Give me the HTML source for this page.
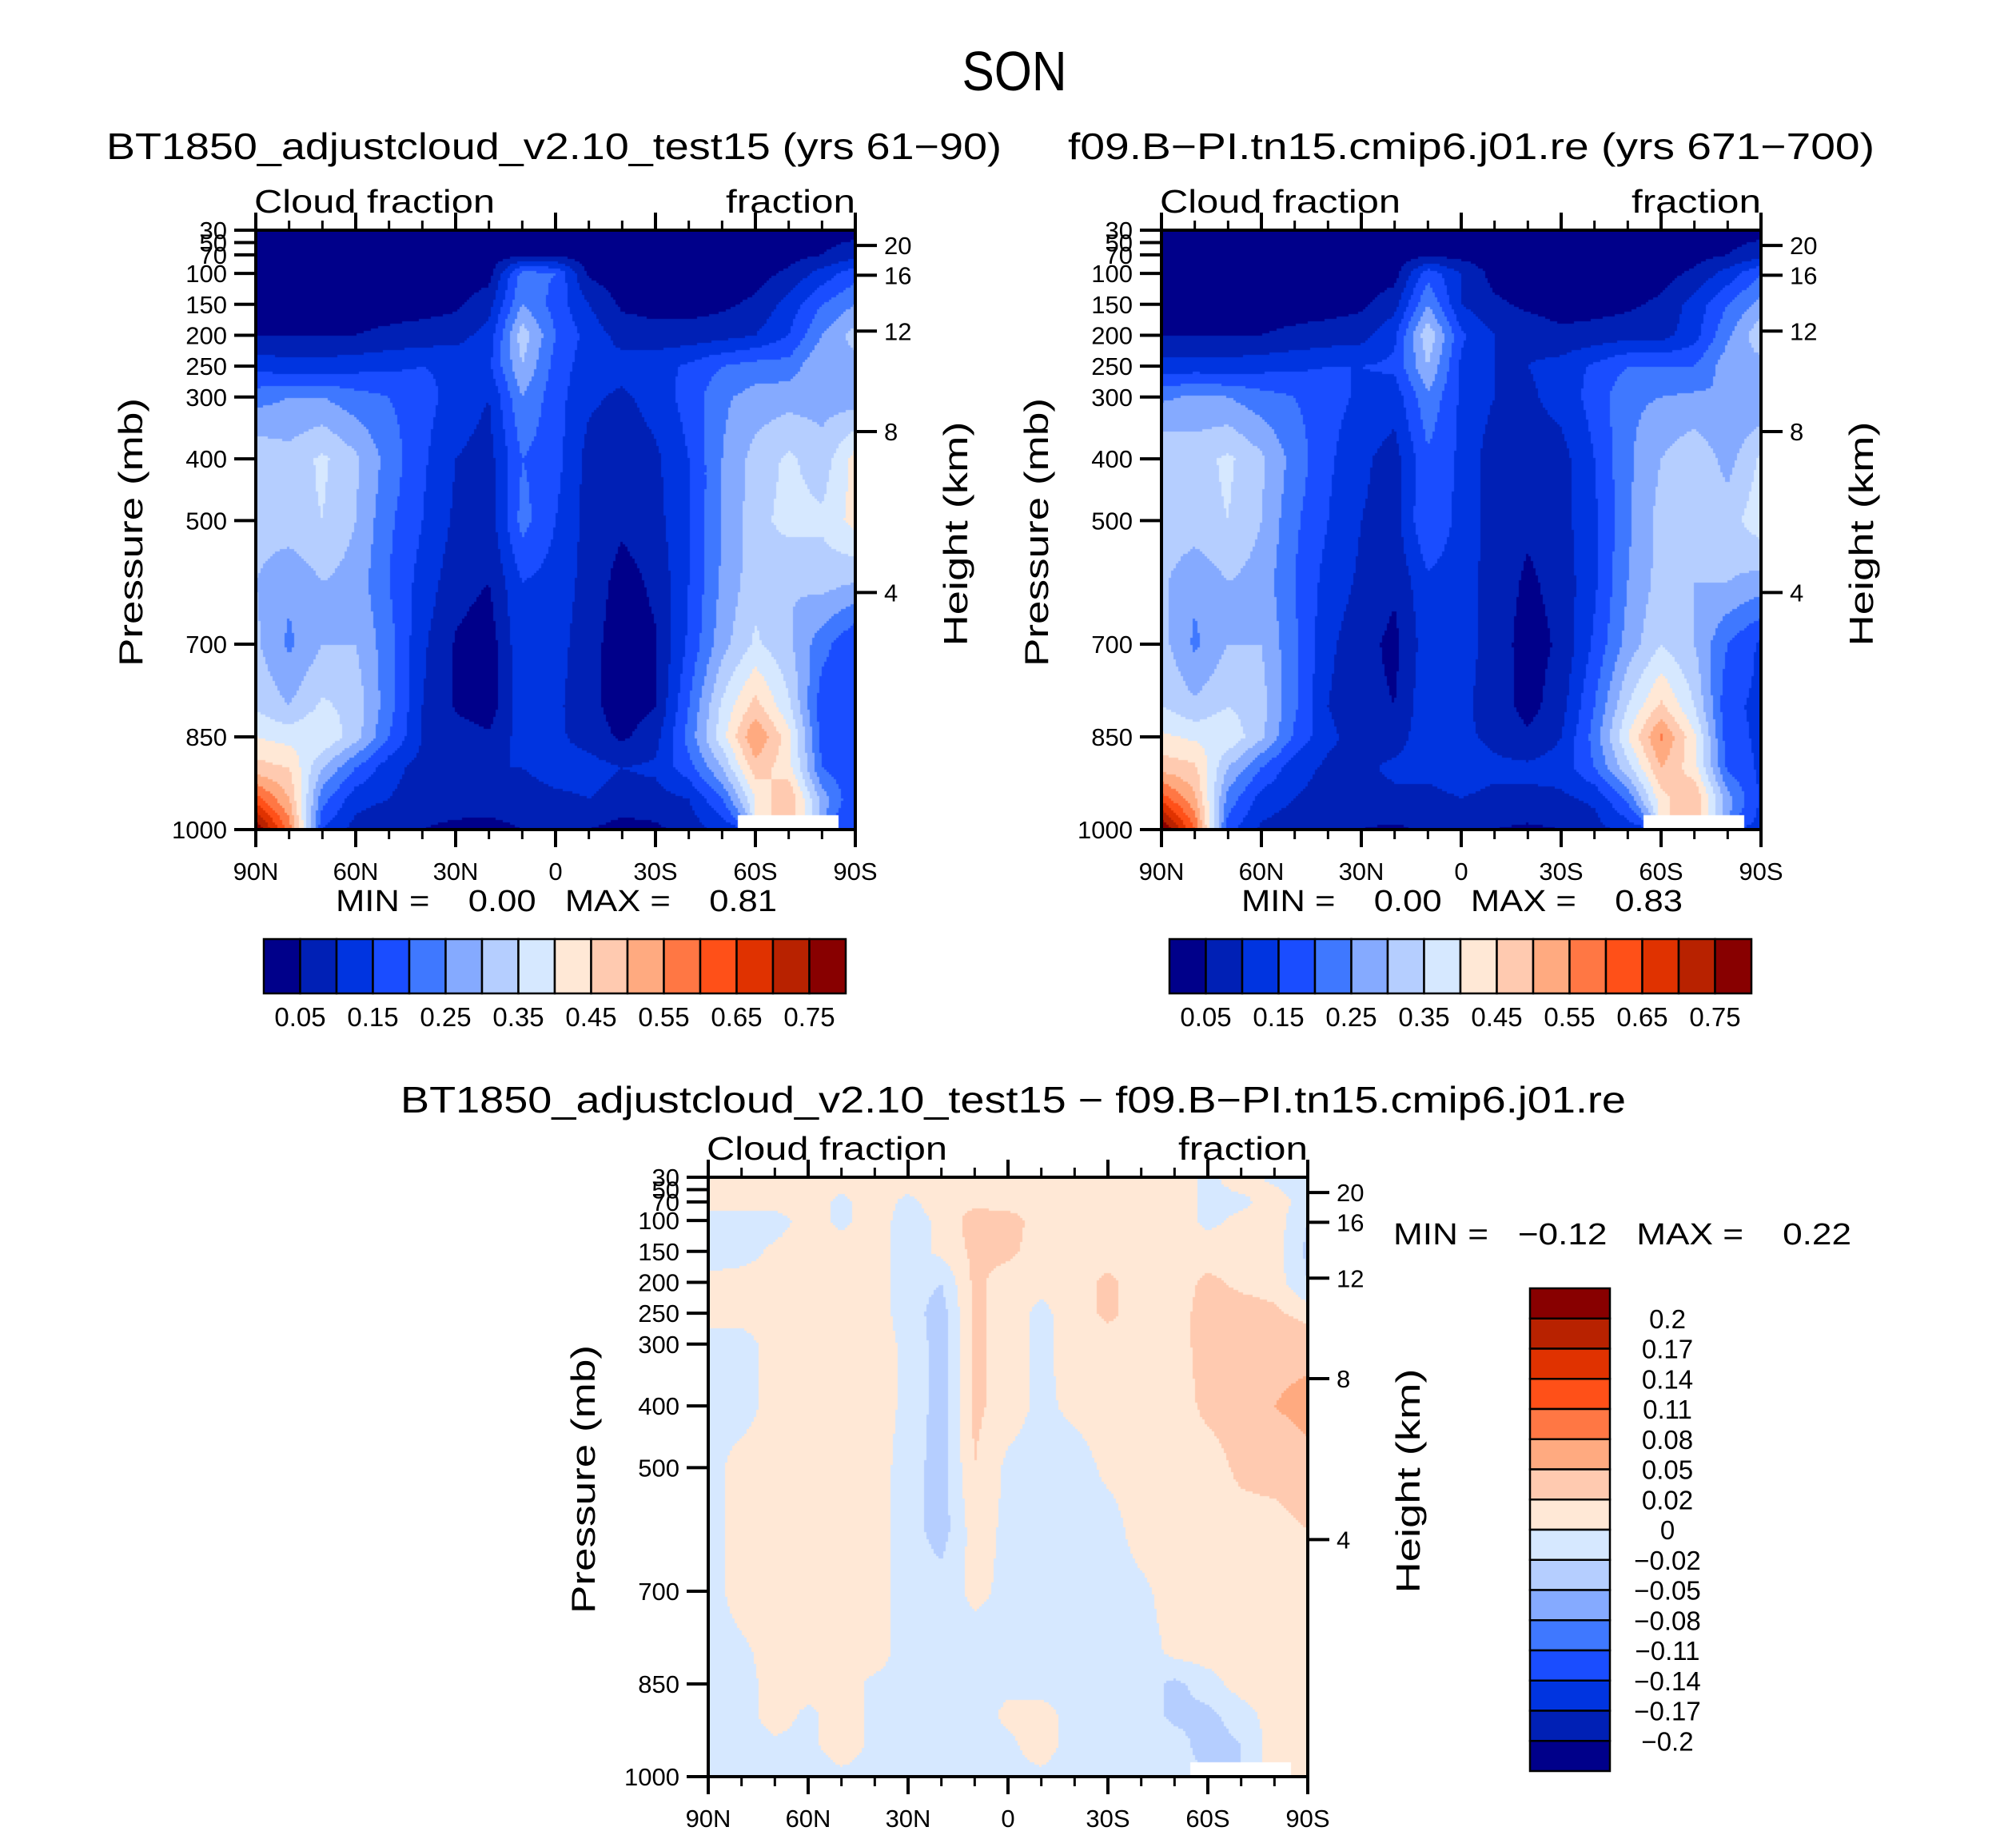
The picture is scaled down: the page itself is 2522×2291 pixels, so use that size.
<!DOCTYPE html>
<html><head><meta charset="utf-8"><title>SON Cloud fraction</title>
<style>
html,body{margin:0;padding:0;background:#fff;}
#wrap{position:relative;width:2522px;height:2291px;overflow:hidden;background:#fff;}
canvas{position:absolute;}
svg{position:absolute;left:0;top:0;}
text{font-family:"Liberation Sans",sans-serif;fill:#000;}
</style></head>
<body>
<div id="wrap">
<canvas id="c1" width="750" height="750" style="left:320px;top:288px"></canvas>
<canvas id="c2" width="750" height="750" style="left:1453px;top:288px"></canvas>
<canvas id="c3" width="750" height="750" style="left:886px;top:1473px"></canvas>
<svg id="ov" width="2522" height="2291" xmlns="http://www.w3.org/2000/svg">
<text x="1269" y="113" font-size="70" text-anchor="middle" textLength="131" lengthAdjust="spacingAndGlyphs">SON</text>
<text x="133" y="199" font-size="46" textLength="1120" lengthAdjust="spacingAndGlyphs">BT1850_adjustcloud_v2.10_test15 (yrs 61−90)</text>
<text x="1336" y="199" font-size="46" textLength="1009" lengthAdjust="spacingAndGlyphs">f09.B−PI.tn15.cmip6.j01.re (yrs 671−700)</text>
<text x="501" y="1392" font-size="46" textLength="1533" lengthAdjust="spacingAndGlyphs">BT1850_adjustcloud_v2.10_test15 − f09.B−PI.tn15.cmip6.j01.re</text>
<text x="420" y="1140" font-size="38" textLength="552" lengthAdjust="spacingAndGlyphs" xml:space="preserve">MIN =    0.00   MAX =    0.81</text>
<text x="1553" y="1140" font-size="38" textLength="552" lengthAdjust="spacingAndGlyphs" xml:space="preserve">MIN =    0.00   MAX =    0.83</text>
<text x="1743" y="1557" font-size="38" textLength="573" lengthAdjust="spacingAndGlyphs" xml:space="preserve">MIN =   −0.12   MAX =    0.22</text>
<g id="axes"></g>
</svg>
</div>
<script>
// ---- data ----
const lats = [90,80,70,60,50,40,30,20,10,0,-10,-20,-30,-40,-50,-60,-70,-80,-90];
const levels = [30,70,100,150,200,250,300,400,500,600,700,800,850,900,950,1000];
const N = NaN;
const cloudTest = [
[.02,.02,.02,.02,.02,.02,.02,.02,.03,.03,.02,.02,.02,.02,.02,.02,.02,.03,.03],
[.02,.02,.02,.02,.02,.02,.02,.02,.04,.04,.02,.02,.02,.02,.02,.02,.03,.05,.08],
[.02,.02,.02,.02,.02,.02,.02,.03,.22,.2,.04,.02,.02,.02,.02,.03,.06,.12,.18],
[.03,.03,.03,.03,.03,.03,.04,.08,.25,.18,.1,.04,.03,.03,.04,.06,.12,.2,.25],
[.05,.05,.05,.05,.06,.07,.08,.12,.33,.2,.13,.08,.07,.07,.08,.1,.15,.25,.32],
[.13,.12,.12,.13,.14,.15,.14,.14,.3,.18,.12,.12,.13,.16,.2,.22,.22,.3,.28],
[.23,.25,.25,.22,.2,.17,.13,.1,.25,.17,.11,.09,.12,.17,.24,.27,.28,.28,.27],
[.34,.32,.36,.31,.23,.16,.1,.08,.2,.17,.08,.07,.09,.15,.25,.32,.36,.32,.42],
[.32,.33,.35,.3,.21,.15,.09,.07,.22,.15,.08,.06,.08,.15,.25,.33,.37,.36,.42],
[.3,.26,.3,.28,.2,.13,.07,.05,.15,.13,.08,.03,.06,.15,.26,.33,.3,.32,.3],
[.31,.24,.3,.3,.22,.11,.045,.02,.14,.12,.07,.02,.045,.16,.28,.36,.31,.22,.15],
[.34,.3,.36,.33,.22,.1,.045,.02,.13,.11,.07,.02,.05,.2,.36,.47,.36,.17,.15],
[.4,.38,.4,.32,.2,.1,.07,.06,.12,.11,.08,.04,.08,.22,.38,.55,.42,.18,.15],
[.47,.45,.3,.2,.12,.08,.08,.1,.1,.12,.12,.1,.11,.18,.3,.48,.42,.2,.15],
[.62,.5,.22,.12,.1,.07,.07,.08,.08,.09,.1,.08,.08,.1,.2,.4,.5,.28,.15],
[.8,.58,.15,.08,.06,.05,.04,.03,.05,.06,.05,.03,.04,.07,.12,N,N,N,.15]];
const cloudCtrl = [
[.02,.02,.02,.02,.02,.02,.02,.02,.03,.03,.02,.02,.02,.02,.02,.02,.02,.03,.03],
[.02,.02,.02,.02,.02,.02,.02,.02,.04,.03,.02,.02,.02,.02,.02,.02,.03,.05,.08],
[.02,.02,.02,.02,.02,.02,.02,.03,.18,.1,.03,.02,.02,.02,.02,.03,.06,.12,.2],
[.03,.03,.03,.03,.03,.03,.04,.08,.25,.1,.06,.04,.03,.03,.04,.06,.12,.2,.27],
[.05,.05,.05,.05,.06,.07,.08,.14,.34,.16,.1,.08,.06,.07,.08,.08,.13,.24,.34],
[.12,.12,.12,.13,.14,.15,.15,.16,.3,.14,.1,.1,.12,.16,.2,.2,.2,.28,.28],
[.24,.26,.25,.22,.2,.17,.14,.12,.24,.14,.1,.09,.12,.17,.24,.25,.26,.25,.25],
[.35,.33,.36,.31,.23,.16,.11,.08,.19,.14,.07,.07,.08,.15,.24,.3,.34,.28,.36],
[.33,.33,.35,.3,.21,.15,.1,.08,.2,.13,.08,.06,.08,.14,.24,.32,.35,.33,.38],
[.31,.26,.3,.28,.2,.13,.09,.06,.14,.12,.08,.04,.07,.14,.25,.32,.3,.3,.28],
[.32,.24,.3,.3,.21,.11,.07,.035,.13,.12,.08,.025,.06,.16,.27,.35,.3,.2,.14],
[.35,.31,.35,.32,.21,.1,.07,.05,.14,.11,.08,.03,.08,.2,.35,.46,.35,.16,.14],
[.41,.39,.39,.31,.19,.11,.08,.08,.13,.11,.09,.06,.1,.22,.4,.56,.41,.17,.14],
[.48,.46,.3,.2,.12,.09,.09,.11,.11,.12,.11,.11,.12,.2,.33,.5,.42,.19,.14],
[.63,.51,.23,.13,.1,.08,.08,.09,.09,.1,.09,.09,.09,.11,.21,.43,.5,.27,.14],
[.82,.6,.17,.09,.07,.05,.05,.04,.06,.07,.05,.04,.05,.08,.12,N,N,N,.14]];
const cloudDiff = [
[.01,.01,.01,.01,.01,.01,.01,.01,.01,.01,.01,.01,.01,.01,.01,-.005,.01,-.005,-.01],
[.01,.01,.01,.01,-.005,.01,-.005,.01,.015,.01,.01,.01,.01,.01,.01,-.005,-.005,.01,-.01],
[-.01,-.01,-.01,.01,-.005,.01,-.01,.005,.03,.03,.01,.01,.01,.01,.01,-.005,.005,.01,-.02],
[-.01,-.01,.005,.01,.01,.01,-.01,.005,.025,.025,.01,.01,.01,.01,.01,.01,.01,.01,-.025],
[.005,.01,.01,.01,.01,.01,-.01,-.02,.025,.01,.005,.01,.025,.01,.01,.025,.015,.01,-.02],
[.01,.01,.01,.01,.01,.01,-.01,-.03,.025,.01,-.005,.01,.025,.01,.01,.03,.03,.025,.01],
[-.01,-.01,.01,.01,.01,.01,-.005,-.03,.025,.01,-.005,.01,.01,.01,.01,.03,.03,.04,.04],
[-.01,-.01,.01,.01,.01,.01,-.005,-.03,.025,.01,-.005,.005,.01,.01,.01,.025,.03,.05,.06],
[-.01,.01,.01,.01,.01,.01,-.01,-.03,.02,-.005,-.01,-.01,.005,.01,.01,.01,.025,.03,.04],
[-.01,.01,.01,.01,.01,.01,-.01,-.03,.01,-.005,-.01,-.01,-.01,.01,.01,.01,.01,.01,.02],
[-.01,.01,.01,.01,.01,.01,-.01,-.01,.005,-.005,-.01,-.01,-.01,-.005,.01,.01,.01,.01,.02],
[-.01,-.005,.01,.01,.01,.01,-.01,-.01,-.01,-.005,-.01,-.01,-.01,-.01,.005,.01,.01,.01,.02],
[-.01,-.01,.01,.01,.01,-.005,-.01,-.01,-.01,-.005,-.01,-.01,-.01,-.01,-.025,-.01,.01,.01,.02],
[-.02,-.01,.01,-.005,.01,-.005,-.01,-.01,-.01,.005,.01,-.01,-.01,-.01,-.025,-.025,-.01,.01,.01],
[-.02,-.01,-.005,-.005,.01,-.005,-.01,-.01,-.01,-.005,.01,-.01,-.01,-.01,-.01,-.03,-.02,.01,.01],
[-.01,-.02,-.02,-.01,-.005,-.005,-.01,-.01,-.01,-.005,-.005,-.01,-.01,-.01,-.01,N,N,N,.01]];
const cloudBounds = [.05,.1,.15,.2,.25,.3,.35,.4,.45,.5,.55,.6,.65,.7,.75];
const diffBounds = [-.2,-.17,-.14,-.11,-.08,-.05,-.02,0,.02,.05,.08,.11,.14,.17,.2];
const cbLabels1 = ["0.05","0.15","0.25","0.35","0.45","0.55","0.65","0.75"];
const cbLabels3 = ["0.2","0.17","0.14","0.11","0.08","0.05","0.02","0","−0.02","−0.05","−0.08","−0.11","−0.14","−0.17","−0.2"];
const palette = ["#00008a","#0020b5","#0034e0","#1a4dff","#3f78ff","#85aaff","#b5ceff","#d6e8ff","#ffe8d6","#ffcab0","#ffaa80","#ff7744","#ff5018","#e03200","#b82200","#880000"];
const pTicks = [30,50,70,100,150,200,250,300,400,500,700,850,1000];
const pTickLabels = ["30","50","70","100","150","200","250","300","400","500","700","850","1000"];
const hTicks = [20,16,12,8,4];
const latTicks = [90,60,30,0,-30,-60,-90];
const latTickLabels = ["90N","60N","30N","0","30S","60S","90S"];

// ---- scales ----
const W = 750, H = 750;
function xOfLat(lat){ return (90-lat)/180*W; }
function yOfP(p){ return (p-30)/970*H; }
function pOfZ(km){ const z=km*1000; if(z<=11000) return 1013.25*Math.pow(1-2.25577e-5*z,5.25588); return 226.32*Math.exp(-(z-11000)/6341.6); }
function colorFor(v,b){ let i=0; while(i<b.length && v>=b[i]) i++; return palette[i]; }

function sample(grid, lat, p){
  let j=0; while(j<lats.length-2 && lat<lats[j+1]) j++;
  let i=0; while(i<levels.length-2 && p>levels[i+1]) i++;
  const tx=(lats[j]-lat)/(lats[j]-lats[j+1]);
  const ty=(p-levels[i])/(levels[i+1]-levels[i]);
  const nj = tx<0.5?j:j+1, ni = ty<0.5?i:i+1;
  if(isNaN(grid[ni][nj])) return NaN;
  const c=[[grid[i][j],(1-tx)*(1-ty)],[grid[i][j+1],tx*(1-ty)],[grid[i+1][j],(1-tx)*ty],[grid[i+1][j+1],tx*ty]];
  let s=0,w=0; c.forEach(([v,wt])=>{ if(!isNaN(v)){s+=v*wt;w+=wt;} });
  return w>0? s/w : NaN;
}
function drawField(id, grid, bounds){
  const ctx=document.getElementById(id).getContext('2d');
  const step=3;
  for(let py=0;py<H;py+=step){
    const p=30+(py+step/2)/H*970;
    for(let px=0;px<W;px+=step){
      const lat=90-(px+step/2)/W*180;
      const v=sample(grid,lat,p);
      ctx.fillStyle = isNaN(v)? "#ffffff" : colorFor(v,bounds);
      ctx.fillRect(px,py,step,step);
    }
  }
}
drawField('c1',cloudTest,cloudBounds);
drawField('c2',cloudCtrl,cloudBounds);
drawField('c3',cloudDiff,diffBounds);

// ---- axes ----
const NS="http://www.w3.org/2000/svg";
const axes=document.getElementById('axes');
function mk(tag,attrs,parent,txt){ const e=document.createElementNS(NS,tag); for(const k in attrs) e.setAttribute(k,attrs[k]); if(txt!==undefined) e.textContent=txt; (parent||axes).appendChild(e); return e; }

function drawAxes(L,T,key){
  const g=mk('g',{});
  
  
  const fr=mk('rect',{x:L,y:T,width:W,height:H,fill:'none',stroke:'#000','stroke-width':4},g);
  
  
  pTicks.forEach((p,k)=>{
    const y=T+yOfP(p);
    mk('line',{x1:L-27,x2:L,y1:y,y2:y,stroke:'#000','stroke-width':4},g);
    const t=mk('text',{x:L-36,y:y+11,'font-size':31,'text-anchor':'end'},g,pTickLabels[k]);
    
    
  });
  hTicks.forEach(h=>{
    const y=T+yOfP(pOfZ(h));
    mk('line',{x1:L+W,x2:L+W+27,y1:y,y2:y,stroke:'#000','stroke-width':4},g);
    const t=mk('text',{x:L+W+36,y:y+11,'font-size':31},g,String(h));
    
    
  });
  for(let lat=90;lat>=-90;lat-=10){
    const x=L+xOfLat(lat); const major=(lat%30===0);
    const len=major?22:12;
    mk('line',{x1:x,x2:x,y1:T,y2:T-len,stroke:'#000','stroke-width':major?4:3},g);
    mk('line',{x1:x,x2:x,y1:T+H,y2:T+H+len,stroke:'#000','stroke-width':major?4:3},g);
  }
  latTicks.forEach((lat,k)=>{
    const t=mk('text',{x:L+xOfLat(lat),y:T+H+63,'font-size':31,'text-anchor':'middle'},g,latTickLabels[k]);
    
    
  });
  const a=mk('text',{x:L-2,y:T-22,'font-size':41,textLength:301,lengthAdjust:'spacingAndGlyphs'},g,'Cloud fraction');
  
  
  const b=mk('text',{x:L+W,y:T-22,'font-size':41,'text-anchor':'end',textLength:162,lengthAdjust:'spacingAndGlyphs'},g,'fraction');
  
  
  const yt=mk('text',{x:0,y:0,'font-size':42,'text-anchor':'middle',textLength:336,lengthAdjust:'spacingAndGlyphs',transform:`translate(${L-142},${T+378}) rotate(-90)`},g,'Pressure  (mb)');
  
  
  const ht=mk('text',{x:0,y:0,'font-size':42,'text-anchor':'middle',textLength:281,lengthAdjust:'spacingAndGlyphs',transform:`translate(${L+W+140},${T+380}) rotate(-90)`},g,'Height  (km)');
  
  
}
drawAxes(320,288,'panel1');
drawAxes(1453,288,'panel2');
drawAxes(886,1473,'panel3');

// horizontal colorbars
function hBar(x0,key){
  const y0=1175,bw=728/16,bh=68;
  palette.forEach((c,i)=>{
    const r=mk('rect',{x:x0+i*bw,y:y0,width:bw,height:bh,fill:c,stroke:'#000','stroke-width':2.5});
    
    
  });
  cbLabels1.forEach((s,k)=>{
    const t=mk('text',{x:x0+(2*k+1)*bw,y:1284,'font-size':33,'text-anchor':'middle'},axes,s);
    
    
  });
}
hBar(330,'panel1');
hBar(1463,'panel2');
// vertical colorbar
(function(){
  const x0=1914,y0=1612,bw=100,bh=604/16;
  palette.slice().reverse().forEach((c,i)=>{
    const r=mk('rect',{x:x0,y:y0+i*bh,width:bw,height:bh,fill:c,stroke:'#000','stroke-width':2.5});
    
    
  });
  cbLabels3.forEach((s,k)=>{
    const t=mk('text',{x:2086,y:y0+(k+1)*bh+12,'font-size':33,'text-anchor':'middle'},axes,s);
    
    
  });
})();
</script>
</body></html>
